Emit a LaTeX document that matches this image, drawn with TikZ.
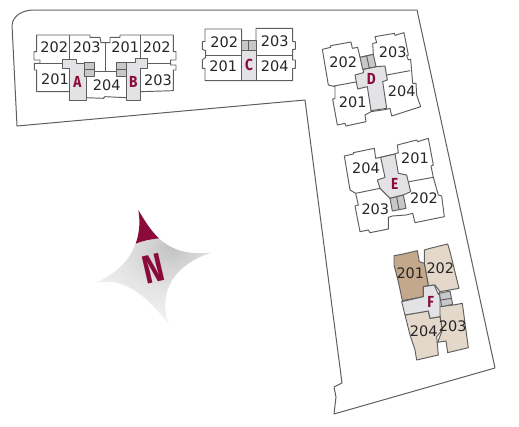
\documentclass[tikz,border=0pt]{standalone}
\usepackage{fontspec}
\setmainfont{DejaVu Sans}
\newfontfamily\letterfont{Fira Sans}
\definecolor{wine}{HTML}{8A0A3A}
\definecolor{hall}{HTML}{E3E3E5}
\definecolor{stair}{HTML}{C8C8CA}
\definecolor{lineg}{HTML}{5E5E5E}
\definecolor{unitdark}{HTML}{C3A88C}
\definecolor{unitlight}{HTML}{E3D8C9}
\pgfdeclareradialshading{starshade}{\pgfpoint{8bp}{20bp}}{
  color(0bp)=(black!24); color(10bp)=(black!17); color(22bp)=(black!10); color(36bp)=(black!5); color(52bp)=(white); color(100bp)=(white)}
\tikzset{
  site/.style={draw=lineg,line width=1pt,line join=round},
  unit/.style={draw=lineg,line width=0.95pt,line join=round,fill=white},
  hallway/.style={unit,fill=hall},
  stairs/.style={unit,fill=stair},
  num/.style={font=\fontsize{14.5}{14.5}\selectfont,text=black!85,inner sep=0pt},
  blockl/.style={font=\letterfont\bfseries\fontsize{16}{16}\selectfont,text=wine,inner sep=0pt,xscale=0.85},
  partline/.style={draw=lineg,line width=0.95pt}
}
\begin{document}
\begin{tikzpicture}[x=1pt,y=-1pt]
\useasboundingbox (0,0) rectangle (519,426);
% site boundary
\draw[site] (17,126) -- (12,25) .. controls (13,16) and (22,10) .. (34,10) -- (417,10) -- (495,368) -- (334,414) -- (336,397) -- (334,387) -- (342,383) -- (305,100) -- cycle;
\draw[draw=black!38,line width=1pt] (34,10) -- (417,10);

% Blocks A and B
\begin{scope}[scale=1/3]
\draw[unit] (110,105) -- (270,105) -- (270,112) -- (300,112) -- (303,128) -- (330,128) -- (330,112) -- (360,112) -- (360,105) -- (520,105) -- (520,155) -- (528,155) -- (528,180) -- (512,180) -- (512,195) -- (528,195) -- (528,210) -- (520,210) -- (520,272) -- (422,275) -- (378,293) -- (315,290) -- (310,295) -- (258,293) -- (208,275) -- (110,275) -- (110,210) -- (103,210) -- (103,190) -- (120,190) -- (120,180) -- (102,180) -- (102,155) -- (110,155) -- cycle;
\draw[partline] (208,105) -- (208,178) (315,128) -- (315,215) (422,105) -- (422,175) (120,190) -- (188,190) (443,190) -- (512,190) (284,215) -- (348,215);
\draw[hallway] (188,178) -- (228,178) -- (228,190) -- (253,190) -- (253,228) -- (258,228) -- (258,300) -- (208,300) -- (208,205) -- (188,205) -- cycle;
\draw[hallway] (405,175) -- (443,175) -- (443,205) -- (422,205) -- (422,300) -- (378,300) -- (378,188) -- (405,188) -- cycle;
\draw[stairs] (253,187) rectangle (284,228);
\draw[partline] (253,208) -- (284,208);
\draw[stairs] (348,187) rectangle (378,228);
\draw[partline] (348,208) -- (378,208);
\node[num] (ab202a) at (163,143) {202};
\node[num] (ab203a) at (260,143) {203};
\node[num] (ab201b) at (376,143) {201};
\node[num] (ab202b) at (470,143) {202};
\node[num] (ab201a) at (165,238) {201};
\node[num] (ab204) at (320,256) {204};
\node[num] (ab203b) at (474,241) {203};
\node[blockl] (labA) at (232,245) {A};
\node[blockl] (labB) at (400,245) {B};
\end{scope}

% Block C
\begin{scope}[shift={(190,0)},scale=1/3]
\draw[unit] (45,87) -- (155,87) -- (155,122) -- (198,122) -- (198,85) -- (308,85) -- (308,125) -- (316,125) -- (316,148) -- (308,148) -- (308,180) -- (316,180) -- (316,205) -- (308,205) -- (308,242) -- (45,242) -- (45,205) -- (37,205) -- (37,180) -- (47,172) -- (47,152) -- (37,148) -- (37,125) -- (45,125) -- cycle;
\draw[partline] (47,165) -- (155,165) (198,165) -- (308,165);
\fill[hall,draw=lineg,line width=0.95pt] (155,150) rectangle (198,242);
\draw[stairs] (155,122) rectangle (198,150);
\draw[partline] (176,122) -- (176,150);
\node[num] (c202) at (103,127) {202};
\node[num] (c203) at (254,125) {203};
\node[num] (c201) at (100,199) {201};
\node[num] (c204) at (254,199) {204};
\node[blockl] (labC) at (177,194) {C};
\end{scope}

% Block D
\begin{scope}[shift={(310,20)},scale=1/3]
\draw[unit] (37,88) -- (62,82) -- (62,77) -- (123,66) -- (127,85) -- (143,82) -- (150,112) -- (190,103) -- (188,70) -- (200,68) -- (195,50) -- (253,40) -- (255,46) -- (282,38) -- (295,105) -- (290,107) -- (295,120) -- (302,118) -- (308,190) -- (318,190) -- (320,225) -- (332,260) -- (245,288) -- (240,265) -- (230,268) -- (183,275) -- (165,285) -- (168,305) -- (108,318) -- (105,310) -- (82,315) -- (68,238) -- (75,235) -- (75,200) -- (55,195) -- cycle;
\draw[partline] (72,198) -- (143,185) (230,165) -- (300,152);
\draw[hallway] (135,165) -- (160,158) -- (160,148) -- (198,140) -- (225,138) -- (232,180) -- (218,185) -- (230,265) -- (183,272) -- (172,200) -- (143,207) -- cycle;
\draw[stairs] (150,112) -- (190,103) -- (198,140) -- (158,148) -- cycle;
\draw[partline] (170,108) -- (178,145);
\node[num] (d202) at (100,127) {202};
\node[num] (d203) at (248,96) {203};
\node[num] (d201) at (128,246) {201};
\node[num] (d204) at (275,214) {204};
\node[blockl] (labD) at (184,177) {D};
\end{scope}

% Block E
\begin{scope}[shift={(335,130)},scale=1/3]
\draw[unit] (28,78) -- (55,72) -- (55,68) -- (118,55) -- (122,85) -- (180,72) -- (190,68) -- (187,45) -- (245,30) -- (248,35) -- (280,25) -- (295,105) -- (288,108) -- (295,142) -- (310,195) -- (320,198) -- (328,260) -- (240,278) -- (233,250) -- (213,255) -- (172,258) -- (160,262) -- (160,297) -- (105,308) -- (100,300) -- (75,305) -- (60,228) -- (70,225) -- (62,190) -- (45,180) -- cycle;
\draw[partline] (62,190) -- (135,175) (222,155) -- (295,142);
\draw[hallway] (137,82) -- (180,72) -- (190,130) -- (215,135) -- (227,185) -- (205,195) -- (165,205) -- (140,180) -- (135,175) -- (127,150) -- (150,142) -- cycle;
\draw[stairs] (165,205) -- (205,195) -- (213,235) -- (172,243) -- cycle;
\draw[partline] (185,200) -- (192,240);
\node[num] (e204) at (93,116) {204};
\node[num] (e201) at (240,86) {201};
\node[num] (e203) at (121,237) {203};
\node[num] (e202) at (267,204) {202};
\node[blockl] (labE) at (179,161) {E};
\end{scope}

% Block F
\begin{scope}[shift={(385,235)},scale=1/3]
\draw[unit,fill=unitlight] (118,45) -- (135,40) -- (188,27) -- (195,50) -- (222,160) -- (165,170) -- (150,150) -- (130,152) -- (118,85) -- cycle;
\draw[unit,fill=unitdark] (27,62) -- (50,58) -- (97,47) -- (103,80) -- (118,85) -- (130,152) -- (115,155) -- (115,185) -- (52,197) -- (40,140) -- (27,90) -- cycle;
\draw[unit,fill=unitlight] (165,245) -- (160,215) -- (205,210) -- (232,205) -- (250,338) -- (188,353) -- (183,318) -- (158,322) -- (172,285) -- cycle;
\draw[unit,fill=unitlight] (60,240) -- (130,228) -- (135,250) -- (165,245) -- (172,285) -- (155,305) -- (160,360) -- (95,375) -- (90,345) -- (75,300) -- cycle;
\draw[hallway] (50,200) -- (115,185) -- (115,155) -- (148,150) -- (160,178) -- (165,170) -- (165,245) -- (135,250) -- (130,228) -- (60,240) -- cycle;
\draw[stairs] (163,175) -- (195,168) -- (203,208) -- (170,215) -- cycle;
\draw[partline] (167,195) -- (200,190);
\node[num] (f201) at (76,116) {201};
\node[num] (f202) at (166,101) {202};
\node[num] (f204) at (116,288) {204};
\node[num] (f203) at (203,273) {203};
\node[blockl] (labF) at (137,200) {F};
\end{scope}

% North star
\begin{scope}[shift={(85,200)},scale=1/3]
\path[shading=starshade] (152,130) .. controls (130,190) and (85,225) .. (32,248) .. controls (105,235) and (170,265) .. (252,375) .. controls (225,300) and (240,205) .. (380,157) .. controls (315,165) and (265,155) .. (218,112) -- cycle;
\fill[wine] (160,30) .. controls (175,55) and (195,90) .. (222,115) .. controls (195,118) and (175,122) .. (152,131) .. controls (165,95) and (165,60) .. (160,30) -- cycle;
\node[font=\letterfont\bfseries\fontsize{40}{40}\selectfont,text=wine,inner sep=0pt,rotate=13,xscale=0.78] (north) at (206,205) {N};
\end{scope}
\end{tikzpicture}
\end{document}
